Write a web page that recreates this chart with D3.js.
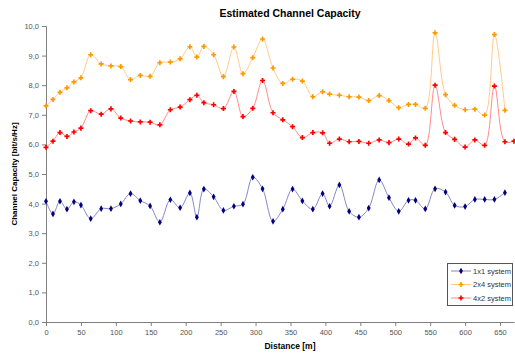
<!DOCTYPE html>
<html><head><meta charset="utf-8">
<script src="https://cdn.jsdelivr.net/npm/d3@7"></script>
<style>body{margin:0;background:#fff}svg{display:block;font-family:"Liberation Sans",Arial,sans-serif}</style>
</head><body><svg id="c" width="515" height="353"></svg>
<script>
const distances = [0,10,20,30,40,50,64,79,93,107,121,135,149,163,178,192,206,216,226,240,254,269,282,296,310,325,339,353,367,382,396,406,420,434,448,462,477,491,505,519,529,543,557,572,585,600,614,628,642,657];
const distances4x2 = distances.concat([670]);
const sys1x1 = [4.08,3.65,4.08,3.81,4.06,3.95,3.49,3.83,3.83,3.99,4.34,4.10,3.92,3.37,4.13,3.86,4.36,3.54,4.49,4.23,3.77,3.91,3.98,4.89,4.50,3.40,3.81,4.49,4.09,3.81,4.34,3.91,4.63,3.74,3.54,3.85,4.80,4.20,3.74,4.11,4.11,3.82,4.50,4.39,3.94,3.90,4.14,4.14,4.14,4.37];
const sys2x4 = [7.30,7.52,7.76,7.91,8.11,8.25,9.03,8.72,8.65,8.63,8.19,8.33,8.30,8.76,8.78,8.89,9.30,8.95,9.31,9.03,8.29,9.29,8.39,8.93,9.56,8.58,8.06,8.20,8.14,7.61,7.78,7.70,7.66,7.61,7.60,7.48,7.65,7.48,7.24,7.35,7.35,7.22,9.77,7.68,7.32,7.17,7.19,6.99,9.71,7.15];
const sys4x2 = [5.90,6.11,6.40,6.27,6.42,6.55,7.14,7.02,7.20,6.89,6.79,6.76,6.75,6.66,7.17,7.26,7.51,7.66,7.41,7.34,7.21,7.79,6.94,7.22,8.16,7.07,6.83,6.60,6.23,6.40,6.39,6.04,6.18,6.09,6.10,6.04,6.15,6.06,6.18,6.01,6.22,5.97,8.00,6.40,6.17,5.91,6.15,5.97,7.97,6.09,6.11];
const xTicks = [0,50,100,150,200,250,300,350,400,450,500,550,600,650];
const yTicks = [0,1,2,3,4,5,6,7,8,9,10];
const seriesNames = ["1x1 system","2x4 system","4x2 system"];

const svg = d3.select("#c");
const x = d3.scaleLinear().domain([0,670]).range([46,514]);
const y = d3.scaleLinear().domain([0,10]).range([322,26]);
const axisColor = "#808080", textColor = "#555";

const yAxis = svg.append("g").attr("transform","translate(46,0)")
  .call(d3.axisLeft(y).tickValues(yTicks).tickSize(4).tickPadding(3).tickFormat(d => d3.format(".1f")(d).replace(".",",")));
const xAxis = svg.append("g").attr("transform","translate(0,322)")
  .call(d3.axisBottom(x).tickValues(xTicks).tickSize(4).tickPadding(4).tickSizeOuter(0));
[yAxis,xAxis].forEach(g=>{
  g.select(".domain").attr("stroke",axisColor);
  g.selectAll(".tick line").attr("stroke",axisColor);
  g.selectAll(".tick text").attr("fill",textColor).style("font-size","7.5px").style("font-family","Liberation Sans, Arial, sans-serif");
});
yAxis.select(".domain").attr("d","M-4,26.5H0.5V322.5H-4");

svg.append("text").attr("x",290).attr("y",17).attr("text-anchor","middle").style("font-weight","bold").style("font-size","10.5px").text("Estimated Channel Capacity");
svg.append("text").attr("x",290).attr("y",349).attr("text-anchor","middle").style("font-weight","bold").style("font-size","8.5px").text("Distance [m]");
svg.append("text").attr("transform","translate(17,174) rotate(-90)").attr("text-anchor","middle").style("font-weight","bold").style("font-size","8px").text("Channel Capacity [bit/s/Hz]");

const series = [
  {name:seriesNames[0], xs:distances, ys:sys1x1, line:"#8686c4", mark:"#000080", sym:d3.symbolDiamond, size:13},
  {name:seriesNames[1], xs:distances, ys:sys2x4, line:"#ffcc85", mark:"#ff9900", sym:d3.symbolCross, size:14},
  {name:seriesNames[2], xs:distances4x2, ys:sys4x2, line:"#ff8a8a", mark:"#ff0000", sym:d3.symbolCross, size:14}
];
const line = d3.line().x(d=>x(d[0])).y(d=>y(d[1])).curve(d3.curveCatmullRom.alpha(0.5));
series.forEach(s=>{
  const pts = s.xs.map((v,i)=>[v,s.ys[i]]);
  svg.append("path").datum(pts).attr("d",line).attr("fill","none").attr("stroke",s.line).attr("stroke-width",1);
  svg.append("g").selectAll("path").data(pts).join("path")
    .attr("transform",d=>`translate(${x(d[0])},${y(d[1])})`)
    .attr("d",d3.symbol().type(s.sym).size(s.size)).attr("fill",s.mark);
});

const lg = svg.append("g");
lg.append("rect").attr("x",447.5).attr("y",263.5).attr("width",65).attr("height",42).attr("fill","#fff").attr("stroke","#555").attr("stroke-width",1);
series.forEach((s,i)=>{
  const yy = 271 + i*13.5;
  lg.append("line").attr("x1",451).attr("x2",471).attr("y1",yy).attr("y2",yy).attr("stroke",s.line);
  lg.append("path").attr("transform",`translate(461,${yy})`).attr("d",d3.symbol().type(s.sym).size(s.size)).attr("fill",s.mark);
  lg.append("text").attr("x",473).attr("y",yy+2.7).style("font-size","7.5px").attr("fill","#333").text(s.name);
});
</script></body></html>
